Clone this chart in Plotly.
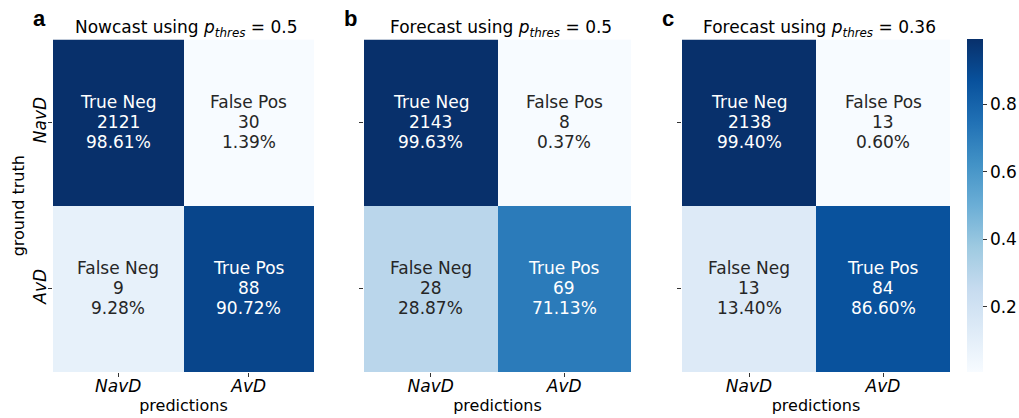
import plotly.graph_objects as go
import plotly.colors as pc

# ---- data ----
classes = ["NavD", "AvD"]
cell_names = [["True Neg", "False Pos"], ["False Neg", "True Pos"]]
panel_letters = ["a", "b", "c"]
panel_titles = [
    "Nowcast using <i>p</i><sub><i>thres</i></sub> = 0.5",
    "Forecast using <i>p</i><sub><i>thres</i></sub> = 0.5",
    "Forecast using <i>p</i><sub><i>thres</i></sub> = 0.36",
]
counts_a = [[2121, 30], [9, 88]]
counts_b = [[2143, 8], [28, 69]]
counts_c = [[2138, 13], [13, 84]]
all_counts = [counts_a, counts_b, counts_c]
cbar_ticks = [0.2, 0.4, 0.6, 0.8]

# ---- layout geometry ----
W, H = 1019, 418
MR = 40                          # right margin reserved for colorbar labels
PW = W - MR                      # plot-area width


def px(x):
    return x / PW


def py(y):
    return 1 - y / H


x_px = [(53, 314), (364, 631), (682, 950)]
y_top, y_bot = 39.5, 372
FONT = "DejaVu Sans"
blues = pc.sequential.Blues
LINE = 20  # pixel spacing between annotation lines

fig = go.Figure()
annotations = []

for i, counts in enumerate(all_counts):
    frac = [[c / sum(row) for c in row] for row in counts]
    flat = [v for r in frac for v in r]
    zmin, zmax = min(flat), max(flat)
    sfx = "" if i == 0 else str(i + 1)
    xa, ya = "x" + sfx, "y" + sfx
    show_cb = i == 2
    fig.add_trace(go.Heatmap(
        z=frac, x=[0, 1], y=[0, 1], xaxis=xa, yaxis=ya,
        colorscale=blues, zmin=zmin, zmax=zmax,
        showscale=show_cb, hoverinfo="skip",
        colorbar=dict(
            x=px(967), xanchor="left", xpad=0, ypad=0,
            thickness=16, thicknessmode="pixels",
            len=(y_bot - y_top) / H, lenmode="fraction",
            y=py(y_bot), yanchor="bottom", outlinewidth=0,
            tickvals=cbar_ticks, ticks="outside", ticklen=4, tickcolor="#333",
            tickfont=dict(family=FONT, size=17, color="#000"),
        ) if show_cb else None,
    ))
    for r in range(2):
        for c in range(2):
            norm = (frac[r][c] - zmin) / (zmax - zmin)
            col = "#ffffff" if norm > 0.5 else "#262626"
            lines = [cell_names[r][c], f"{counts[r][c]}", f"{frac[r][c]*100:.2f}%"]
            for k, t in enumerate(lines):
                annotations.append(dict(
                    x=c, y=r, xref=xa, yref=ya, showarrow=False,
                    text=t, yshift=(1 - k) * LINE + 1,
                    font=dict(family=FONT, size=17, color=col),
                ))
    x0, x1 = x_px[i]
    ax = dict(
        domain=[px(x0), px(x1)], range=[-0.5, 1.5], anchor=ya,
        tickvals=[0, 1], ticktext=[f"<i>{k}</i>" for k in classes],
        ticks="outside", ticklen=4, tickcolor="#333", showgrid=False,
        zeroline=False, showline=False, automargin=False,
        ticklabelstandoff=-5,
        tickfont=dict(family=FONT, size=17, color="#000"),
        title=dict(text="predictions", font=dict(family=FONT, size=16, color="#000"), standoff=4),
    )
    ay = dict(
        domain=[py(y_bot), py(y_top)], range=[1.5, -0.5], anchor=xa,
        tickvals=[0, 1], ticktext=[f"<i>{k}</i>" for k in classes],
        showticklabels=(i == 0),
        tickangle=-90, ticks="outside", ticklen=4, tickcolor="#333",
        showgrid=False, zeroline=False, showline=False, automargin=False,
        ticklabelstandoff=-5,
        tickfont=dict(family=FONT, size=17, color="#000"),
    )
    if i == 0:
        ay["title"] = dict(text="ground truth", font=dict(family=FONT, size=16, color="#000"), standoff=1)
    fig.layout["xaxis" + sfx] = ax
    fig.layout["yaxis" + sfx] = ay
    # title
    annotations.append(dict(
        x=px((x0 + x1) / 2 + 3), y=py(28), xref="paper", yref="paper",
        text=panel_titles[i], showarrow=False, xanchor="center", yanchor="middle",
        font=dict(family=FONT, size=17, color="#000"),
    ))
    annotations.append(dict(
        x=px(x0 - 14), y=py(19), xref="paper", yref="paper",
        text=f"<b>{panel_letters[i]}</b>", showarrow=False,
        xanchor="center", yanchor="middle",
        font=dict(family="Liberation Sans", size=22, color="#000"),
    ))

fig.update_layout(
    width=W, height=H, margin=dict(l=0, r=MR, t=0, b=0, autoexpand=False),
    paper_bgcolor="white", plot_bgcolor="white",
    annotations=annotations, font=dict(family=FONT),
)
fig.write_html(
    "out.html",
    config={"displayModeBar": False},
    post_script="document.body.style.margin='0';document.body.style.overflow='hidden';",
)
